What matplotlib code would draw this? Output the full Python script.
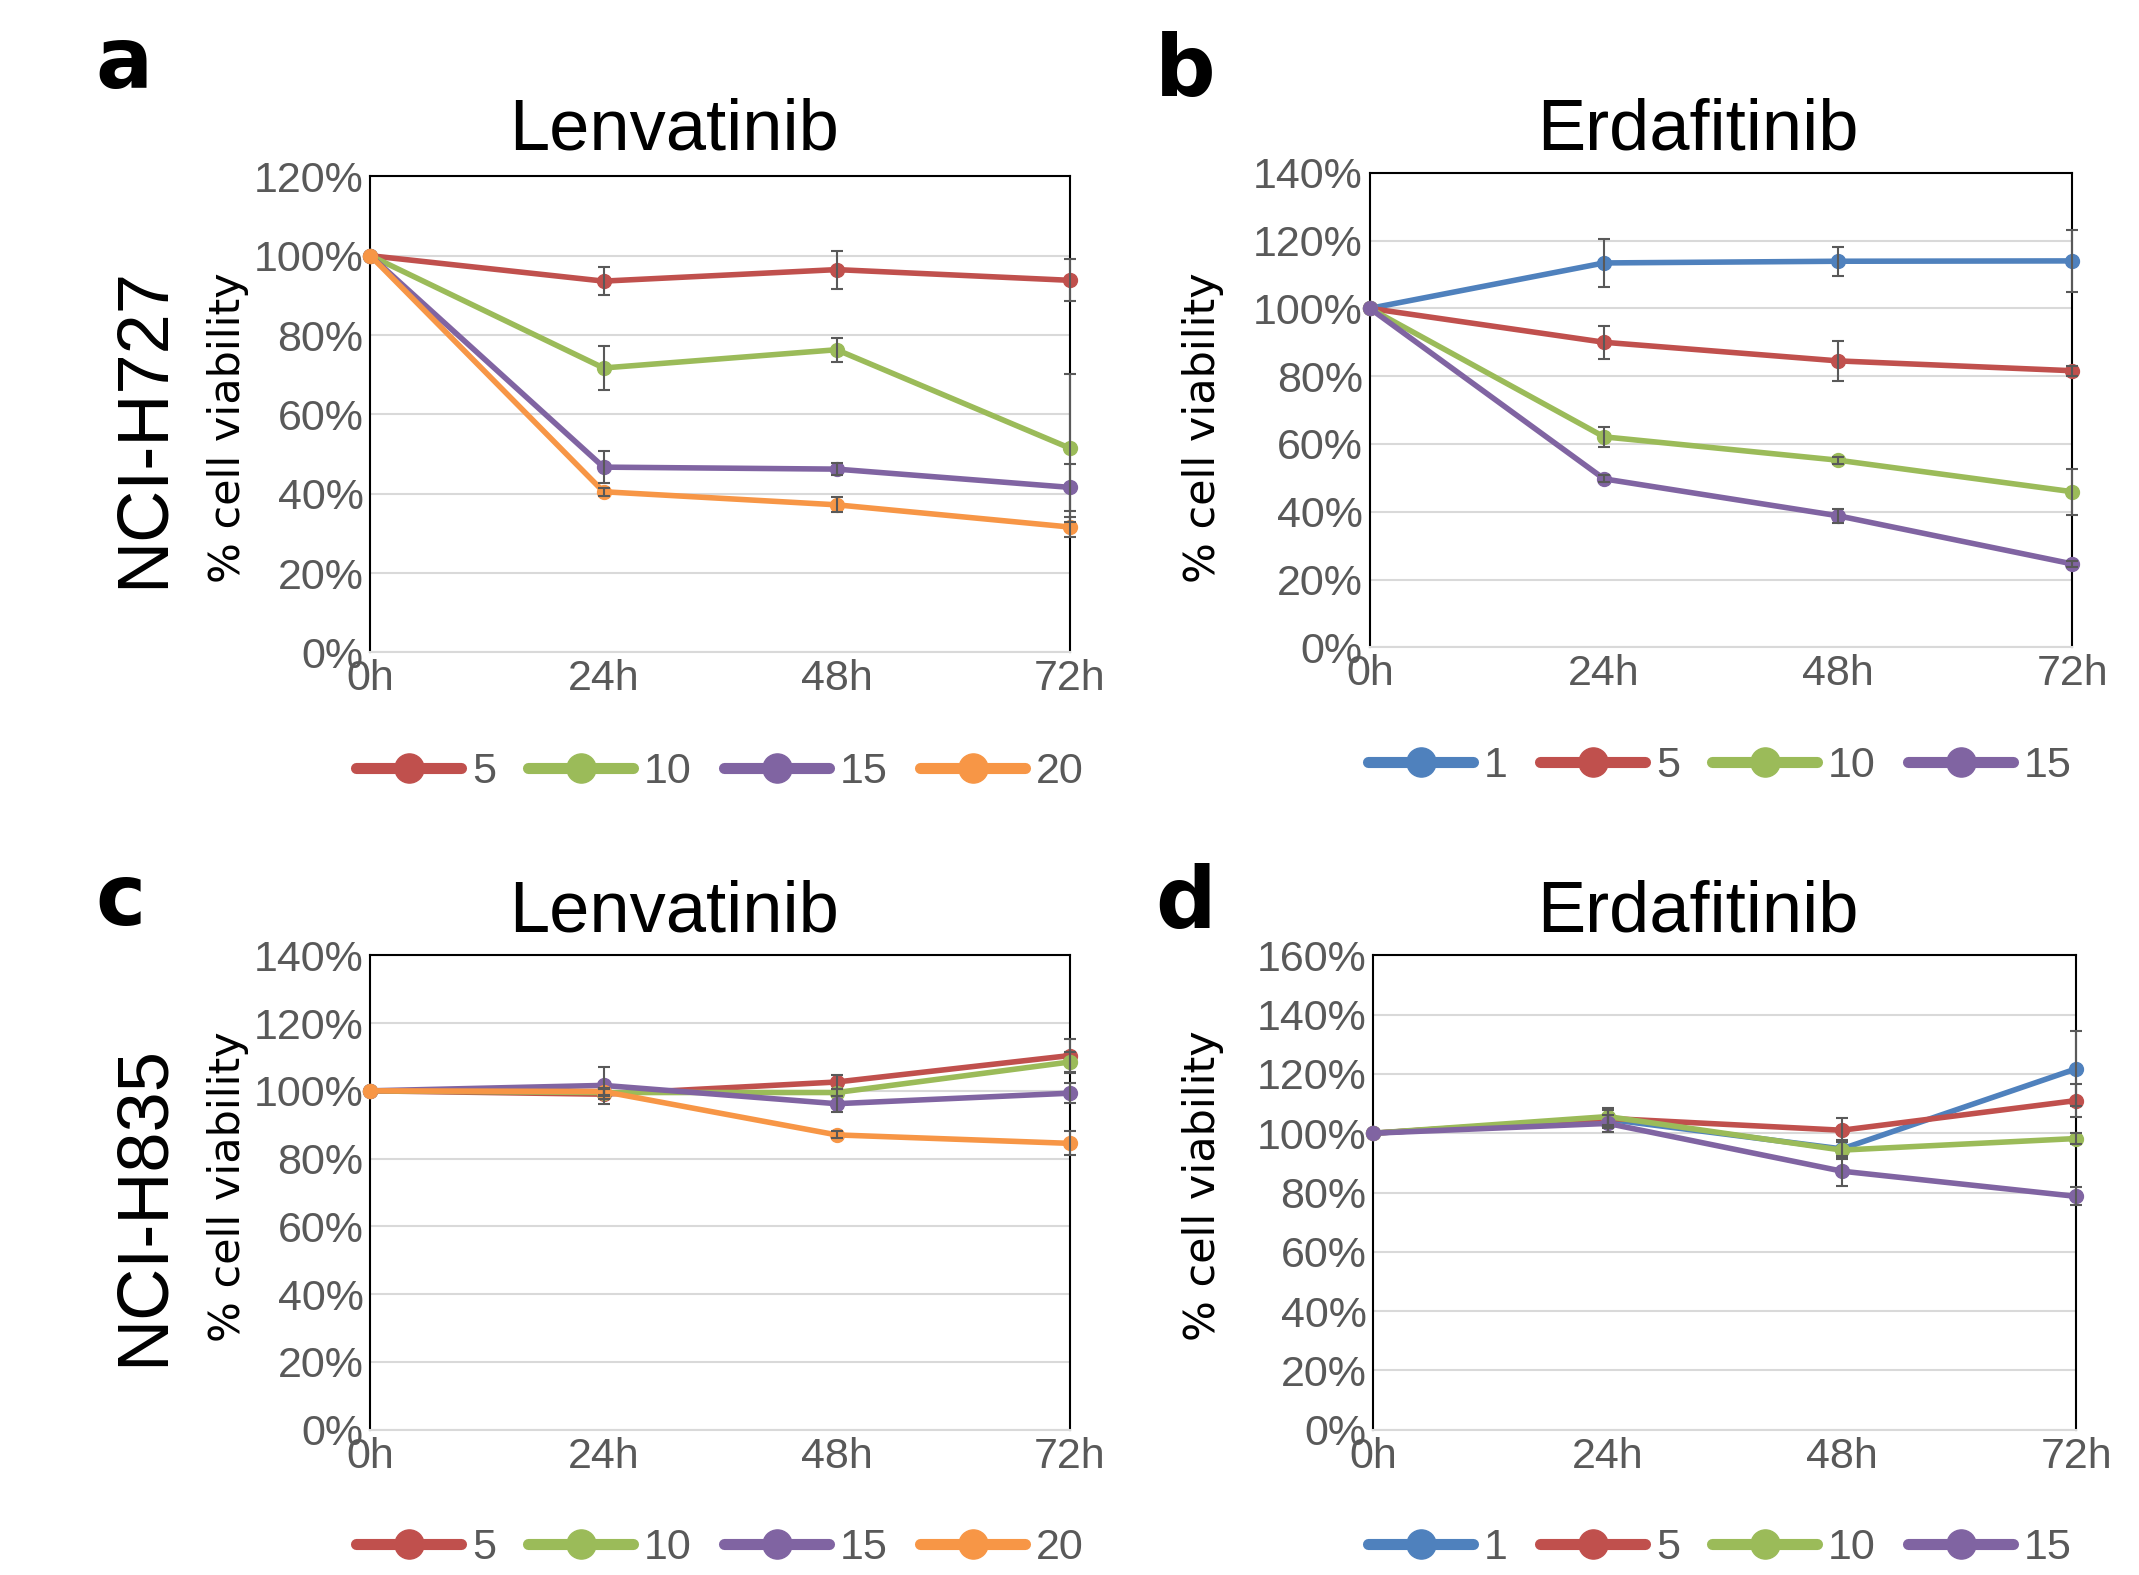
import matplotlib.pyplot as plt
from matplotlib import font_manager
from matplotlib.lines import Line2D
from matplotlib.ticker import FuncFormatter

W, H = 2139, 1575

hours = [0, 24, 48, 72]
hour_labels = ["0h", "24h", "48h", "72h"]

# a: NCI-H727 + Lenvatinib
a_doses = ["5", "10", "15", "20"]
a_mean = [
    [100, 93.6, 96.5, 93.8],
    [100, 71.7, 76.3, 51.5],
    [100, 46.7, 46.2, 41.6],
    [100, 40.5, 37.2, 31.6],
]
a_err = [
    [0, 3.5, 4.8, 5.3],
    [0, 5.6, 3.0, 18.7],
    [0, 4.0, 1.5, 6.0],
    [0, 1.0, 1.9, 2.6],
]

# b: NCI-H727 + Erdafitinib
b_doses = ["1", "5", "10", "15"]
b_mean = [
    [100, 113.4, 113.9, 114.0],
    [100, 90.0, 84.5, 81.6],
    [100, 62.1, 55.2, 45.9],
    [100, 49.7, 38.8, 24.6],
]
b_err = [
    [0, 7.2, 4.3, 9.2],
    [0, 4.8, 5.8, 1.5],
    [0, 3.0, 1.0, 6.8],
    [0, 1.0, 2.0, 1.0],
]

# c: NCI-H835 + Lenvatinib
c_doses = ["5", "10", "15", "20"]
c_mean = [
    [100, 99.0, 102.6, 110.4],
    [100, 99.5, 99.5, 108.5],
    [100, 101.6, 96.2, 99.3],
    [100, 99.8, 87.0, 84.5],
]
c_err = [
    [0, 1.5, 2.2, 5.0],
    [0, 1.0, 1.0, 3.0],
    [0, 5.4, 2.4, 3.0],
    [0, 1.0, 1.0, 3.5],
]

# d: NCI-H835 + Erdafitinib
d_doses = ["1", "5", "10", "15"]
d_mean = [
    [100, 104.7, 94.7, 121.7],
    [100, 105.0, 101.0, 111.0],
    [100, 105.6, 94.3, 98.2],
    [100, 103.3, 87.2, 78.7],
]
d_err = [
    [0, 3.0, 3.0, 12.6],
    [0, 3.0, 4.0, 5.5],
    [0, 3.0, 3.0, 2.0],
    [0, 3.0, 5.0, 3.0],
]

dose_colors = {
    "1": "#4F81BD",
    "5": "#C0504D",
    "10": "#9BBB59",
    "15": "#8064A2",
    "20": "#F79646",
}

GRAY = "#595959"

# the tick labels in the original are a tall, narrow face
installed = {f.name for f in font_manager.fontManager.ttflist}
if "Liberation Sans Narrow" in installed:
    TICK_FONT, TICK_SIZE = "Liberation Sans Narrow", 35
else:
    TICK_FONT, TICK_SIZE = "Liberation Sans", 31


def px(x, y):
    return x / W, 1 - y / H


def draw_panel(fig, rect, doses, means, errs, ymax, legend_xy):
    ax = fig.add_axes(rect)
    for dose, mean, err in zip(doses, means, errs):
        color = dose_colors[dose]
        ax.plot(hours, mean, color=color, lw=4, marker="o", ms=10,
                clip_on=False, zorder=3, solid_capstyle="round")
        ax.errorbar(hours[1:], mean[1:], yerr=err[1:], fmt="none",
                    ecolor=GRAY, elinewidth=1.5, capsize=4.5, capthick=1.5,
                    zorder=4, clip_on=False)

    ax.set_xlim(0, 72)
    ax.set_ylim(0, ymax)
    ax.set_xticks(hours)
    ax.set_xticklabels(hour_labels)
    ax.set_yticks(range(0, ymax + 1, 20))
    ax.yaxis.set_major_formatter(FuncFormatter(lambda v, _: f"{v:.0f}%"))
    ax.tick_params(length=0, pad=5, labelsize=TICK_SIZE, labelcolor=GRAY)
    for lab in ax.get_xticklabels() + ax.get_yticklabels():
        lab.set_fontfamily(TICK_FONT)

    ax.grid(axis="y", color="#D9D9D9", lw=1.5)
    ax.set_axisbelow(True)
    for side in ["left", "top", "right"]:
        ax.spines[side].set_color("black")
        ax.spines[side].set_linewidth(1.5)
    ax.spines["bottom"].set_color("#D9D9D9")
    ax.spines["bottom"].set_linewidth(1.5)

    handles = [
        Line2D([], [], color=dose_colors[d], lw=8, marker="o", ms=21,
               solid_capstyle="round")
        for d in doses
    ]
    ax.legend(handles, doses, loc="center", bbox_to_anchor=px(*legend_xy),
              bbox_transform=fig.transFigure, ncol=4, frameon=False,
              handlelength=2.44, handletextpad=0.25, columnspacing=0.75,
              labelcolor=GRAY, prop={"family": TICK_FONT, "size": TICK_SIZE})
    return ax


fig = plt.figure(figsize=(W / 100, H / 100), dpi=100)

draw_panel(fig, [0.1732, 0.5858, 0.3269, 0.3022], a_doses, a_mean, a_err, 120, (720, 772))
draw_panel(fig, [0.6404, 0.5890, 0.3285, 0.3013], b_doses, b_mean, b_err, 140, (1720, 766))
draw_panel(fig, [0.1732, 0.0922, 0.3269, 0.3013], c_doses, c_mean, c_err, 140, (720, 1548))
draw_panel(fig, [0.6421, 0.0922, 0.3285, 0.3013], d_doses, d_mean, d_err, 160, (1720, 1548))

# panel letters
for letter, (x, y) in {"a": (95, 88), "b": (1155, 96), "c": (95, 925), "d": (1155, 928)}.items():
    fig.text(*px(x, y), letter, ha="left", va="baseline", fontsize=61,
             fontweight="bold", family="DejaVu Sans")

# drug titles
for title, (x, y) in [("Lenvatinib", (674, 150)), ("Erdafitinib", (1698, 150)),
                      ("Lenvatinib", (674, 931)), ("Erdafitinib", (1698, 931))]:
    fig.text(*px(x, y), title, ha="center", va="baseline", fontsize=52,
             family="Liberation Sans")

# cell line labels
fig.text(*px(144, 427), "NCI-H727", rotation=90, ha="center", va="center",
         fontsize=52, family="Liberation Sans")
fig.text(*px(144, 1205), "NCI-H835", rotation=90, ha="center", va="center",
         fontsize=52, family="Liberation Sans")

# y labels
for x, y in [(228, 428), (1203, 428), (228, 1187), (1203, 1186)]:
    fig.text(*px(x, y), "% cell viability", rotation=90, ha="center",
             va="center", fontsize=31, family="DejaVu Sans")

fig.savefig("out.png", dpi=100)
